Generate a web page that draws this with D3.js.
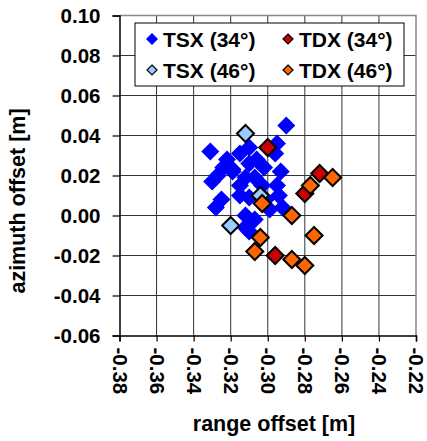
<!DOCTYPE html>
<html>
<head>
<meta charset="utf-8">
<script src="https://cdn.jsdelivr.net/npm/d3@7"></script>
<style>
  body { margin: 0; background: #fff; }
  svg { display: block; font-family: "Liberation Sans", Arial, sans-serif; font-weight: bold; }
</style>
</head>
<body>
<svg id="chart" width="427" height="441"></svg>
<script>
// range offset / azimuth offset [m] per series
const tsx34 = [
  [-0.290, 0.045], [-0.331, 0.032], [-0.295, 0.036], [-0.296, 0.031], [-0.310, 0.034],
  [-0.315, 0.031], [-0.322, 0.028], [-0.306, 0.028], [-0.302, 0.024], [-0.293, 0.022],
  [-0.310, 0.026], [-0.319, 0.023], [-0.324, 0.024], [-0.330, 0.017], [-0.327, 0.020],
  [-0.319, 0.022], [-0.312, 0.019], [-0.307, 0.019], [-0.315, 0.015], [-0.303, 0.015],
  [-0.295, 0.015], [-0.294, 0.010], [-0.310, 0.009], [-0.301, 0.008], [-0.325, 0.008],
  [-0.328, 0.004], [-0.299, 0.003], [-0.292, 0.004], [-0.312, 0.000], [-0.310, -0.004],
  [-0.312, -0.006], [-0.307, -0.002], [-0.310, -0.008], [-0.315, 0.010]
];
const tdx34 = [[-0.300, 0.034], [-0.272, 0.021], [-0.280, 0.011], [-0.296, -0.020]];
const tsx46 = [[-0.312, 0.041], [-0.304, 0.010], [-0.320, -0.005]];
const tdx46 = [
  [-0.277, 0.015], [-0.265, 0.019], [-0.303, 0.006], [-0.287, 0.000], [-0.275, -0.010],
  [-0.304, -0.011], [-0.307, -0.018], [-0.287, -0.022], [-0.280, -0.025]
];
const xTicks = [-0.38, -0.36, -0.34, -0.32, -0.30, -0.28, -0.26, -0.24, -0.22];
const yTicks = [0.10, 0.08, 0.06, 0.04, 0.02, 0.00, -0.02, -0.04, -0.06];

const series = [
  {name: "TSX (34°)", data: tsx34, fill: "#0000ff", stroke: "none", sw: 0},
  {name: "TDX (34°)", data: tdx34, fill: "#cc0000", stroke: "#000", sw: 2},
  {name: "TSX (46°)", data: tsx46, fill: "#99ccff", stroke: "#000", sw: 2},
  {name: "TDX (46°)", data: tdx46, fill: "#ff6600", stroke: "#000", sw: 2}
];

const svg = d3.select("#chart");
const x = d3.scaleLinear().domain([-0.38, -0.22]).range([119.5, 416]);
const y = d3.scaleLinear().domain([-0.06, 0.10]).range([335.5, 15.5]);

const diamond = r => `M0,${-r}L${r},0L0,${r}L${-r},0Z`;
const fmt = d => d3.format(".2f")(d).replace("\u2212", "-");

// grid
const grid = svg.append("g");
grid.selectAll(".gx").data(xTicks.slice(1, -1)).enter().append("line")
  .attr("x1", d => x(d)).attr("x2", d => x(d)).attr("y1", y(0.10)).attr("y2", y(-0.06))
  .attr("stroke", "#333").attr("stroke-width", 1);
grid.selectAll(".gy").data(yTicks.slice(1, -1)).enter().append("line")
  .attr("x1", x(-0.38)).attr("x2", x(-0.22)).attr("y1", d => y(d)).attr("y2", d => y(d))
  .attr("stroke", "#333").attr("stroke-width", 1);
svg.append("path")
  .attr("d", `M${x(-0.38)},${y(0.10)}H${x(-0.22)}V${y(-0.06)}`)
  .attr("fill", "none").attr("stroke", "#888").attr("stroke-width", 1.5);

// axes
const yAxis = svg.append("g").attr("transform", `translate(${x(-0.38)},0)`)
  .call(d3.axisLeft(y).tickValues(yTicks).tickSize(7).tickPadding(12).tickFormat(fmt));
const xAxis = svg.append("g").attr("transform", `translate(0,${y(-0.06)})`)
  .call(d3.axisBottom(x).tickValues(xTicks).tickSize(6).tickFormat(fmt));
[yAxis, xAxis].forEach(a => {
  a.select(".domain").attr("stroke", "#000").attr("stroke-width", 1.5);
  a.selectAll(".tick line").attr("stroke", "#000").attr("stroke-width", 1.2);
  a.selectAll("text").attr("fill", "#000").style("font-size", "20.5px").style("font-weight", "bold")
    .style("font-family", "'Liberation Sans', Arial, sans-serif");
});
yAxis.selectAll("text").attr("dy", "0.36em");
xAxis.selectAll("text")
  .attr("transform", "rotate(90)")
  .attr("x", 12).attr("y", 0).attr("dy", "0.36em")
  .attr("text-anchor", "start");

// points
series.forEach(s => {
  svg.append("g").selectAll("path").data(s.data).enter().append("path")
    .attr("d", diamond(s.sw > 1 ? 8.5 : 9))
    .attr("transform", d => `translate(${x(d[0])},${y(d[1])})`)
    .attr("fill", s.fill).attr("stroke", s.stroke).attr("stroke-width", s.sw)
    .attr("stroke-linejoin", "miter");
});

// axis titles
svg.append("text").attr("x", 274).attr("y", 431).attr("text-anchor", "middle")
  .style("font-size", "21.5px").text("range offset [m]");
svg.append("text").attr("transform", "translate(25,201) rotate(-90)").attr("text-anchor", "middle")
  .style("font-size", "21.5px").text("azimuth offset [m]");

// legend
const lg = svg.append("g");
lg.append("rect").attr("x", 135).attr("y", 23).attr("width", 269).attr("height", 63)
  .attr("fill", "#fff").attr("stroke", "#000").attr("stroke-width", 1);
const legendPos = [[152, 39], [288, 39], [152, 70], [288, 70]];
series.forEach((s, i) => {
  const [lx, ly] = legendPos[i];
  lg.append("path").attr("d", diamond(s.sw > 1 ? 5 : 6))
    .attr("transform", `translate(${lx},${ly})`)
    .attr("fill", s.fill).attr("stroke", s.sw > 1 ? "#000" : "none").attr("stroke-width", 1.2);
  lg.append("text").attr("x", lx + 11).attr("y", ly).attr("dy", "0.36em")
    .style("font-size", "21px").text(s.name);
});
</script>
</body>
</html>
